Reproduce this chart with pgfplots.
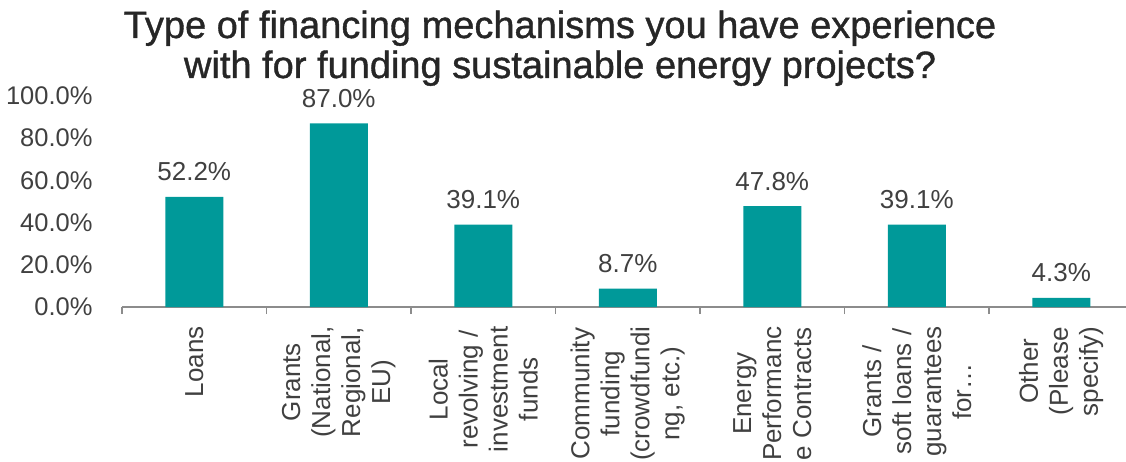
\documentclass[border=0pt]{standalone}
\usepackage{pgfplots}
\pgfplotsset{compat=1.18}
\usepackage{fontspec}
\setmainfont{Liberation Sans}
\newfontfamily\titlefont[FakeBold=1.0]{Liberation Sans}
\definecolor{barteal}{HTML}{009999}
\definecolor{txt}{HTML}{404040}
\definecolor{ttl}{HTML}{262626}
\definecolor{axgray}{HTML}{8C8C8C}
\begin{document}
\begin{tikzpicture}
\begin{axis}[
  scale only axis, width=1004pt, height=211pt,
  xmin=-0.5, xmax=6.448, ymin=0, ymax=100,
  axis x line*=bottom, axis y line*=left,
  y axis line style={draw=none},
  x axis line style={axgray, line width=1.2pt},
  ybar, bar width=58pt,
  xtick={0,1,2,3,4,5,6},
  xticklabels={Loans,{Grants\\(National,\\Regional,\\EU)},{Local\\revolving /\\investment\\funds},{Community\\funding\\(crowdfundi\\ng, etc.)},{Energy\\Performanc\\e Contracts},{Grants /\\soft loans /\\guarantees\\for…},{Other\\(Please\\specify)}},
  major x tick style={draw=none},
  minor xtick={-0.5,0.5,1.5,2.5,3.5,4.5,5.5},
  minor x tick style={axgray, line width=1.2pt},
  minor tick length=7pt,
  tick align=outside,
  ytick={0,20,40,60,80,100},
  yticklabels={0.0\%,20.0\%,40.0\%,60.0\%,80.0\%,100.0\%},
  major y tick style={draw=none},
  yticklabel style={font=\fontsize{25.5}{30}\selectfont, text=txt, anchor=east, inner sep=0pt, xshift=-25pt},
  xticklabel style={font=\fontsize{26}{30}\selectfont, text=txt, yshift=-15pt, rotate=90, anchor=east, align=center, inner sep=0pt},
  point meta=explicit symbolic,
  nodes near coords,
  every node near coord/.append style={font=\fontsize{26}{30}\selectfont, text=txt, anchor=base, inner sep=0pt, yshift=16pt},
]
\addplot[fill=barteal, draw=none] coordinates {(0,52.2)[52.2\%] (1,87.0)[87.0\%] (2,39.1)[39.1\%] (3,8.7)[8.7\%] (4,47.8)[47.8\%] (5,39.1)[39.1\%] (6,4.3)[4.3\%]};
\end{axis}
\node[anchor=base, font=\titlefont\fontsize{38}{40}\selectfont, text=ttl] at (438pt,269pt) {Type of financing mechanisms you have experience};
\node[anchor=base, font=\titlefont\fontsize{38}{40}\selectfont, text=ttl] at (438pt,229pt) {with for funding sustainable energy projects?};
\pgfresetboundingbox
\path (-122pt,-154pt) rectangle (1004pt,307pt);
\end{tikzpicture}
\end{document}
